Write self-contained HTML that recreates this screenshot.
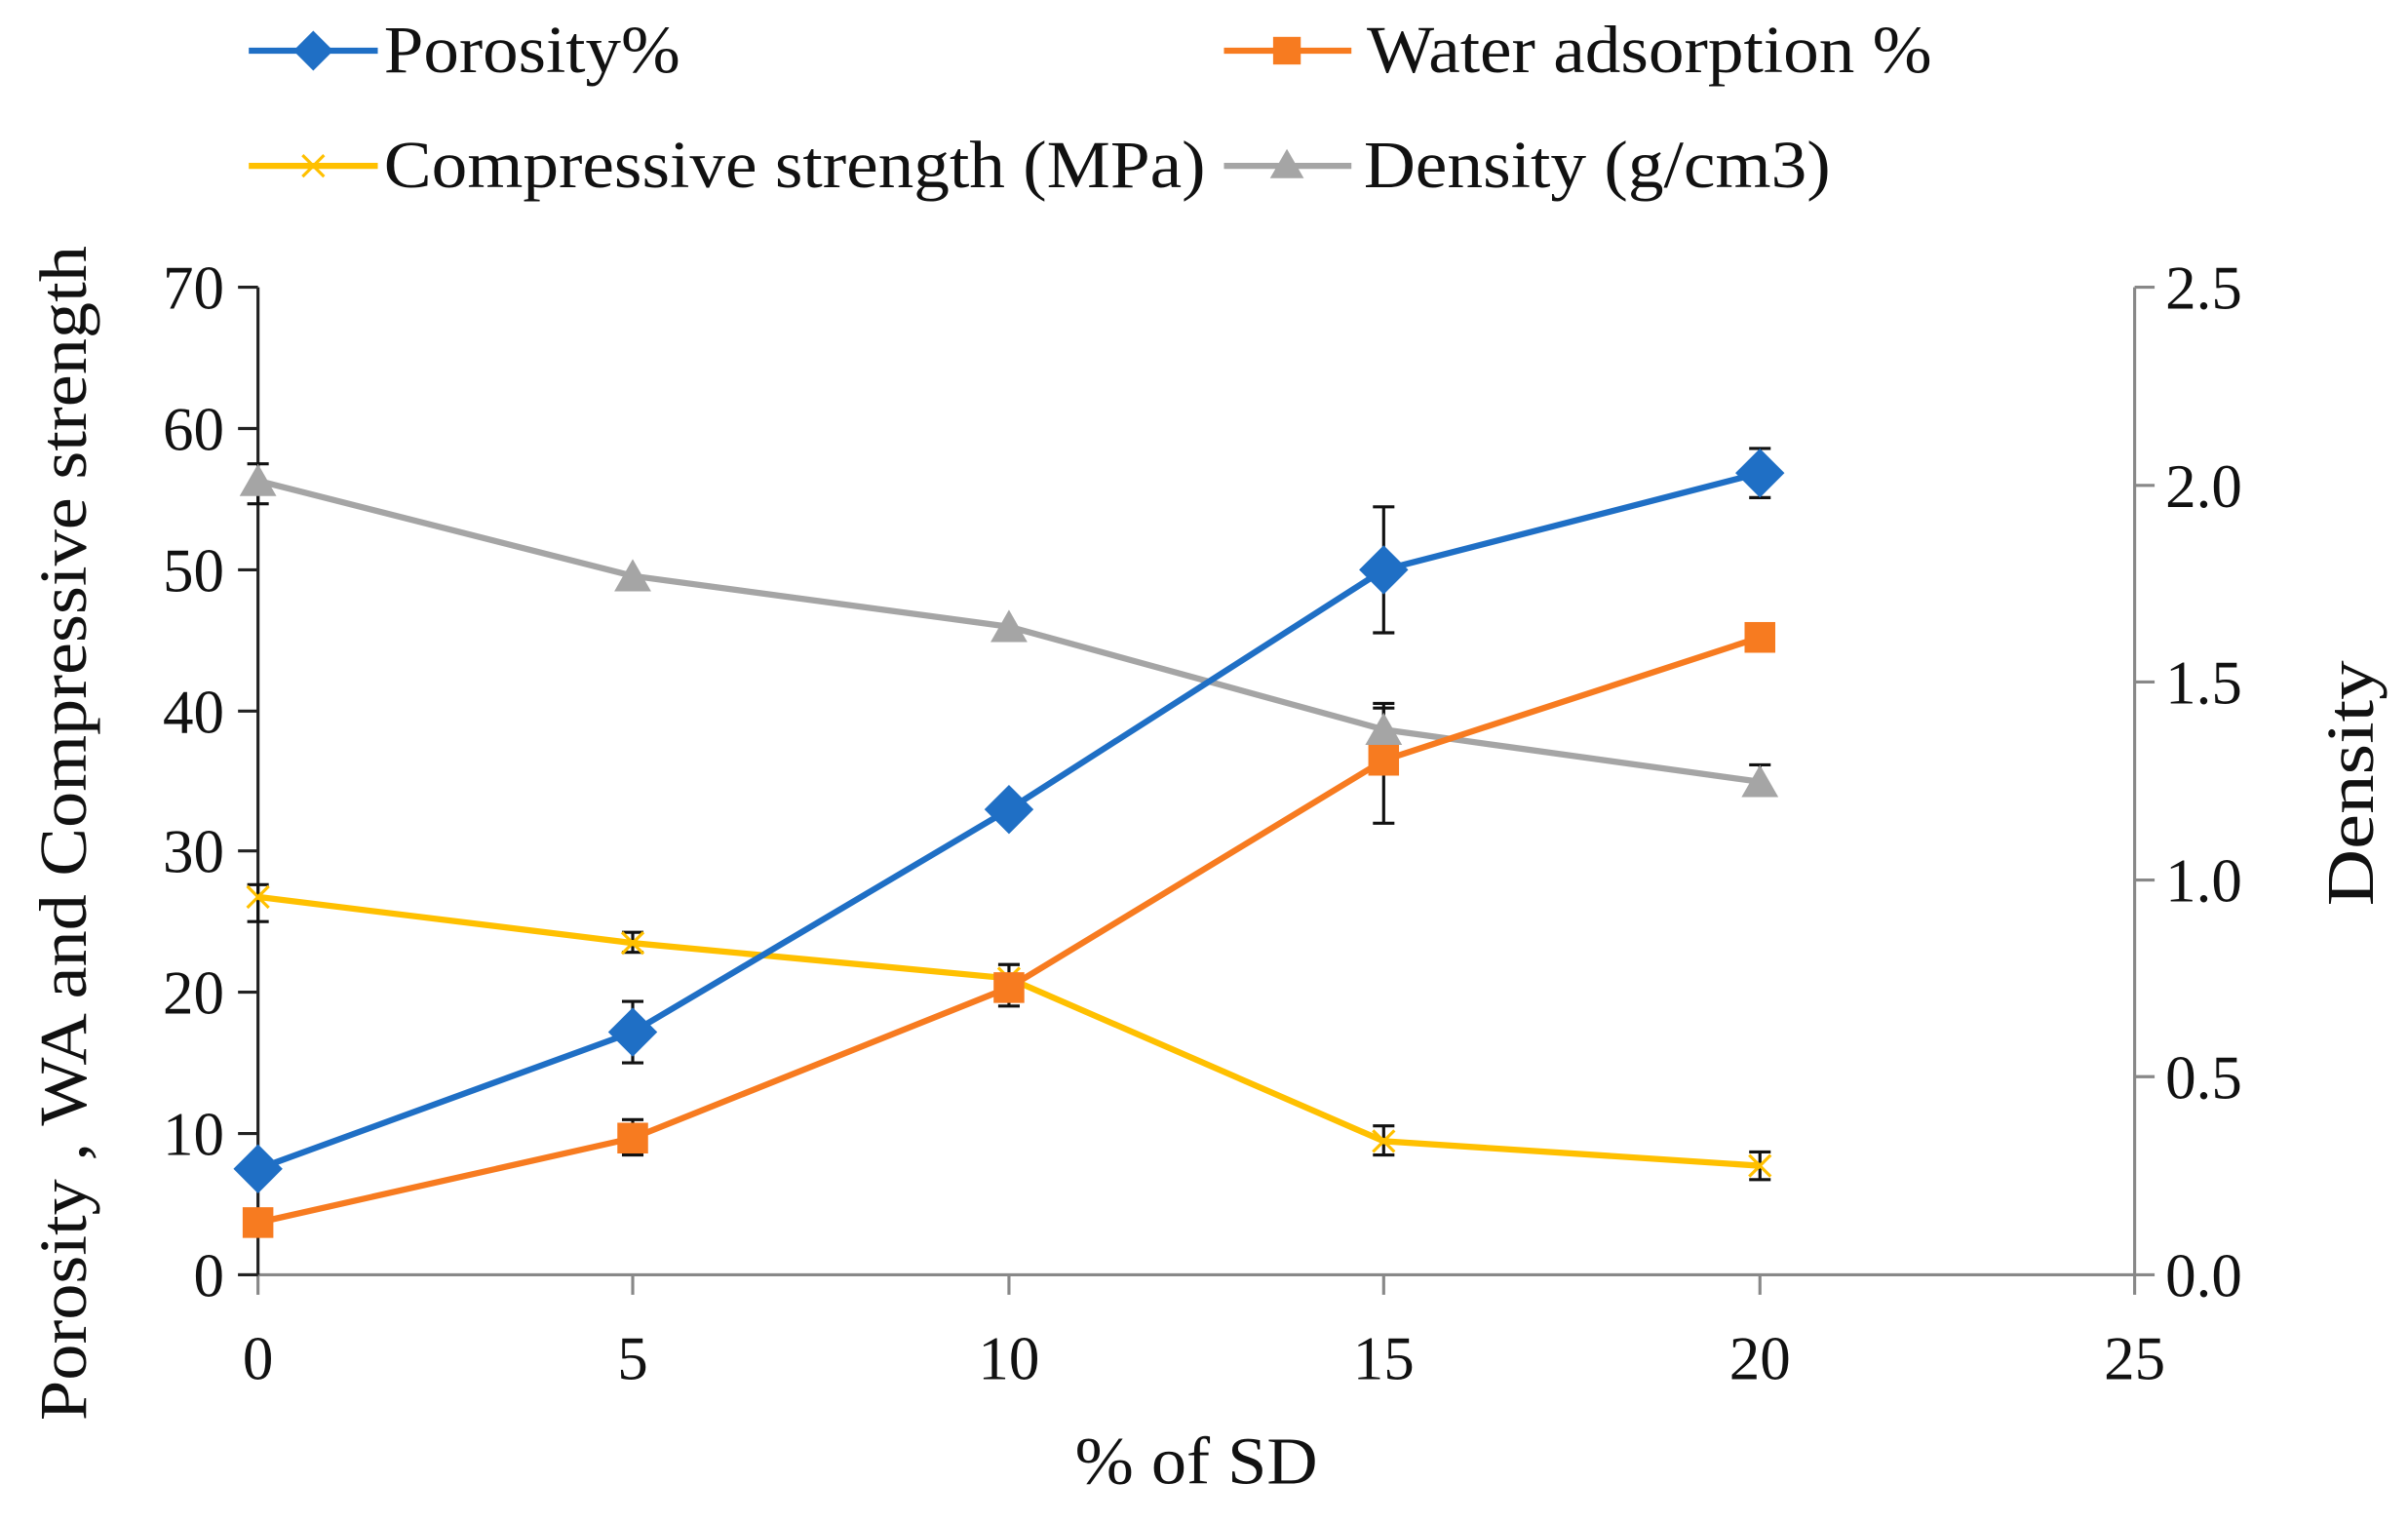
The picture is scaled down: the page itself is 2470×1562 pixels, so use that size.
<!DOCTYPE html>
<html><head><meta charset="utf-8"><style>html,body{margin:0;padding:0;background:#fff}svg{display:block}</style></head>
<body>
<svg width="2470" height="1562" viewBox="0 0 1568 991.6" preserveAspectRatio="none" xmlns="http://www.w3.org/2000/svg" font-family="Liberation Serif, serif" fill="#111">
<rect width="1568" height="992" fill="#fff"/>
<g stroke="#888" stroke-width="2">
<line x1="155" y1="830" x2="1390" y2="830"/>
<line x1="1390" y1="187" x2="1390" y2="830"/>
<line x1="1390" y1="187" x2="1403" y2="187"/><line x1="1390" y1="316" x2="1403" y2="316"/><line x1="1390" y1="444" x2="1403" y2="444"/><line x1="1390" y1="573" x2="1403" y2="573"/><line x1="1390" y1="701" x2="1403" y2="701"/><line x1="1390" y1="830" x2="1403" y2="830"/>
<line x1="168" y1="830" x2="168" y2="843"/><line x1="412" y1="830" x2="412" y2="843"/><line x1="657" y1="830" x2="657" y2="843"/><line x1="901" y1="830" x2="901" y2="843"/><line x1="1146" y1="830" x2="1146" y2="843"/><line x1="1390" y1="830" x2="1390" y2="843"/>
</g>
<g stroke="#222" stroke-width="2">
<line x1="168" y1="187" x2="168" y2="830"/>
<line x1="155" y1="187" x2="168" y2="187"/><line x1="155" y1="279" x2="168" y2="279"/><line x1="155" y1="371" x2="168" y2="371"/><line x1="155" y1="463" x2="168" y2="463"/><line x1="155" y1="554" x2="168" y2="554"/><line x1="155" y1="646" x2="168" y2="646"/><line x1="155" y1="738" x2="168" y2="738"/><line x1="155" y1="830" x2="168" y2="830"/>
</g>
<g font-size="40" text-anchor="end">
<text x="146" y="201">70</text><text x="146" y="293">60</text><text x="146" y="385">50</text><text x="146" y="477">40</text><text x="146" y="568">30</text><text x="146" y="660">20</text><text x="146" y="752">10</text><text x="146" y="844">0</text>
</g>
<g font-size="40" text-anchor="start">
<text x="1410" y="201">2.5</text><text x="1410" y="330">2.0</text><text x="1410" y="458">1.5</text><text x="1410" y="587">1.0</text><text x="1410" y="715">0.5</text><text x="1410" y="844">0.0</text>
</g>
<g font-size="40" text-anchor="middle">
<text x="168" y="898">0</text><text x="412" y="898">5</text><text x="657" y="898">10</text><text x="901" y="898">15</text><text x="1146" y="898">20</text><text x="1390" y="898">25</text>
</g>
<g font-size="44">
<text x="700" y="966" textLength="158" lengthAdjust="spacingAndGlyphs">% of SD</text>
<text transform="translate(56,925) rotate(-90)" textLength="765" lengthAdjust="spacingAndGlyphs">Porosity , WA and Compressive strength</text>
<text transform="translate(1545,590) rotate(-90)" textLength="160" lengthAdjust="spacingAndGlyphs">Density</text>
</g>
<g stroke="#111" stroke-width="2" fill="none">
<path d="M412 652V692M405 652H419M405 692H419"/>
<path d="M901 330V412M894 330H908M894 412H908"/>
<path d="M1146 292V324M1139 292H1153M1139 324H1153"/>
<path d="M412 729V752M405 729H419M405 752H419"/>
<path d="M657 628V655M650 628H664M650 655H664"/>
<path d="M901 458V536M894 458H908M894 536H908"/>
<path d="M168 576V600M161 576H175M161 600H175"/>
<path d="M412 607V620M405 607H419M405 620H419"/>
<path d="M901 733V752M894 733H908M894 752H908"/>
<path d="M1146 750V768M1139 750H1153M1139 768H1153"/>
<path d="M168 302V328M161 302H175M161 328H175"/>
<path d="M901 461V482M894 461H908M894 482H908"/>
<path d="M1146 498V514M1139 498H1153M1139 514H1153"/>
</g>
<polyline fill="none" stroke="#a5a5a5" stroke-width="4" points="168,313 412,375 657,408 901,475 1146,509"/>
<g fill="#a5a5a5"><path d="M168,302 l12,21 h-24z"/><path d="M412,364 l12,21 h-24z"/><path d="M657,397 l12,21 h-24z"/><path d="M901,464 l12,21 h-24z"/><path d="M1146,498 l12,21 h-24z"/></g>
<polyline fill="none" stroke="#ffc000" stroke-width="4" points="168,584 412,614 657,637 901,743 1146,759"/>
<g stroke="#ffc000" stroke-width="2"><path d="M161 577l14 14M175 577l-14 14"/><path d="M405 607l14 14M419 607l-14 14"/><path d="M650 630l14 14M664 630l-14 14"/><path d="M894 736l14 14M908 736l-14 14"/><path d="M1139 752l14 14M1153 752l-14 14"/></g>
<polyline fill="none" stroke="#1f6fc5" stroke-width="4" points="168,761 412,672 657,527 901,371 1146,308"/>
<g fill="#1f6fc5"><path d="M168,745l16,16-16,16-16-16z"/><path d="M412,656l16,16-16,16-16-16z"/><path d="M657,511l16,16-16,16-16-16z"/><path d="M901,355l16,16-16,16-16-16z"/><path d="M1146,292l16,16-16,16-16-16z"/></g>
<polyline fill="none" stroke="#f77b20" stroke-width="4" points="168,796 412,741 657,643 901,495 1146,415"/>
<g fill="#f77b20"><rect x="158" y="786" width="20" height="20"/><rect x="402" y="731" width="20" height="20"/><rect x="647" y="633" width="20" height="20"/><rect x="891" y="485" width="20" height="20"/><rect x="1136" y="405" width="20" height="20"/></g>
<g font-size="44">
<line x1="162" y1="33" x2="246" y2="33" stroke="#1f6fc5" stroke-width="4"/><path d="M204,20l13,13-13,13-13-13z" fill="#1f6fc5"/><text x="250" y="47" textLength="193" lengthAdjust="spacingAndGlyphs">Porosity%</text>
<line x1="797" y1="33" x2="880" y2="33" stroke="#f77b20" stroke-width="4"/><rect x="829" y="24" width="18" height="18" fill="#f77b20"/><text x="890" y="47" textLength="368" lengthAdjust="spacingAndGlyphs">Water adsorption %</text>
<line x1="162" y1="108" x2="246" y2="108" stroke="#ffc000" stroke-width="4"/><path d="M197 101l14 14M211 101l-14 14" stroke="#ffc000" stroke-width="2"/><text x="250" y="122" textLength="535" lengthAdjust="spacingAndGlyphs">Compressive strength (MPa)</text>
<line x1="797" y1="108" x2="880" y2="108" stroke="#a5a5a5" stroke-width="4"/><path d="M838,97l11,19h-22z" fill="#a5a5a5"/><text x="888" y="122" textLength="304" lengthAdjust="spacingAndGlyphs">Density (g/cm3)</text>
</g>
</svg>
</body></html>
